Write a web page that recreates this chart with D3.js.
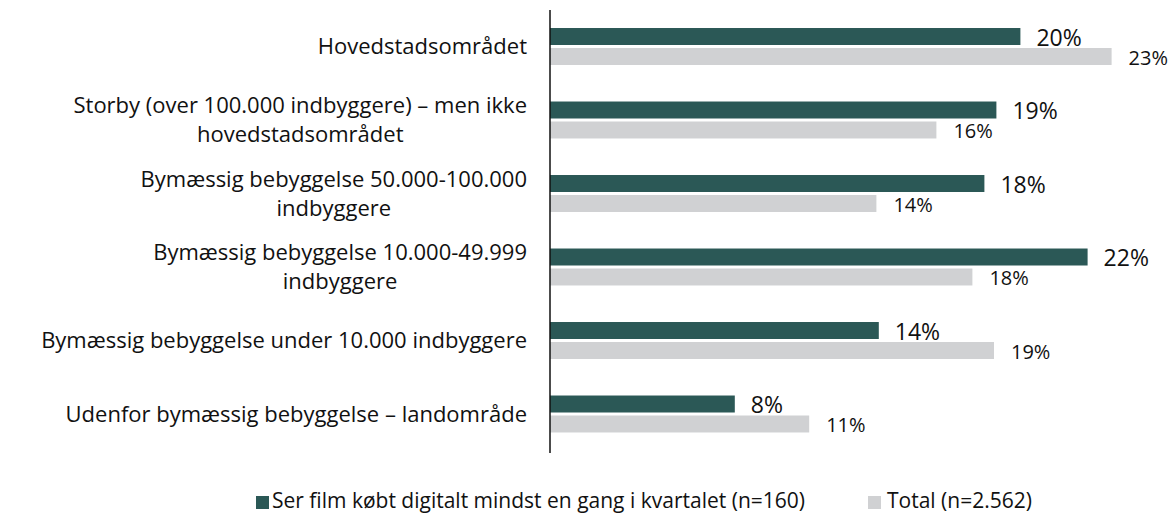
<!DOCTYPE html>
<html>
<head>
<meta charset="utf-8">
<script src="https://cdn.jsdelivr.net/npm/d3@7"></script>
<style>
  body { margin: 0; background: #fff; }
  svg { font-family: "Open Sans", sans-serif; }
</style>
</head>
<body>
<svg id="svg1" width="1174" height="513"></svg>
<script>
"use strict"

// ======================================================================
// data
const categories = [
  "Hovedstadsområdet",
  "Storby (over 100.000 indbyggere) – men ikke hovedstadsområdet",
  "Bymæssig bebyggelse 50.000-100.000 indbyggere",
  "Bymæssig bebyggelse 10.000-49.999 indbyggere",
  "Bymæssig bebyggelse under 10.000 indbyggere",
  "Udenfor bymæssig bebyggelse – landområde"
];
// how the category labels are broken over lines
const categoryLines = [
  ["Hovedstadsområdet"],
  ["Storby (over 100.000 indbyggere) – men ikke", "hovedstadsområdet"],
  ["Bymæssig bebyggelse 50.000-100.000", "indbyggere"],
  ["Bymæssig bebyggelse 10.000-49.999", "indbyggere"],
  ["Bymæssig bebyggelse under 10.000 indbyggere"],
  ["Udenfor bymæssig bebyggelse – landområde"]
];
const seriesNames = [
  "Ser film købt digitalt mindst en gang i kvartalet (n=160)",
  "Total (n=2.562)"
];
const digitalValues = [19.6, 18.6, 18.1, 22.4, 13.7, 7.7];
const totalValues   = [23.4, 16.1, 13.6, 17.6, 18.5, 10.8];

const colors = ["#2b5856", "#d0d1d3"];

// =======================================
// set up the chart
const svg = d3.select("#svg1");
const axisX = 550;

const x = d3.scaleLinear().domain([0, 25]).range([axisX, axisX + 600]);
const y = d3.scaleBand().domain(categories).range([9.75, 450.75]).paddingInner(0.497).paddingOuter(0.2485);
const sub = d3.scaleBand().domain([0, 1]).range([0, y.bandwidth()]).paddingInner(0.15);

const rows = categories.map((c, i) => ({cat: c, lines: categoryLines[i], vals: [digitalValues[i], totalValues[i]]}));

// bars and value labels
const g = svg.append("g");
rows.forEach(r => {
  r.vals.forEach((v, s) => {
    g.append("rect")
      .attr("x", x(0))
      .attr("y", y(r.cat) + sub(s))
      .attr("width", x(v) - x(0))
      .attr("height", sub.bandwidth())
      .attr("fill", colors[s]);

    g.append("text")
      .attr("x", x(v) + (s === 0 ? 16 : 17))
      .attr("y", y(r.cat) + sub(s) + sub.bandwidth() / 2 + (s === 0 ? 1 : 1.5))
      .attr("dy", "0.35em")
      .style("font-size", s === 0 ? "23px" : "20px")
      .attr("fill", "#111")
      .text(Math.round(v) + "%");
  });
});

// category labels (second line centred under the first)
rows.forEach(r => {
  const cy = y(r.cat) + y.bandwidth() / 2;
  const lh = 29;
  const t = svg.append("text")
    .style("font-size", "22px")
    .attr("fill", "#111");
  const spans = r.lines.map((ln, k) =>
    t.append("tspan")
      .attr("x", axisX - 23)
      .attr("y", cy + (k - (r.lines.length - 1) / 2) * lh)
      .attr("dy", "0.35em")
      .attr("text-anchor", "end")
      .text(ln));
  if (spans.length > 1) {
    const w0 = spans[0].node().getComputedTextLength();
    spans[1].attr("x", axisX - 23 - w0 / 2).attr("text-anchor", "middle");
  }
});

// vertical axis line
svg.append("line")
  .attr("x1", axisX).attr("x2", axisX)
  .attr("y1", 10).attr("y2", 453)
  .attr("stroke", "#111")
  .attr("stroke-width", 1.5);

// legend
const legendX = [256, 868];
seriesNames.forEach((name, s) => {
  svg.append("rect")
    .attr("x", legendX[s]).attr("y", 496)
    .attr("width", 13).attr("height", 13)
    .attr("fill", colors[s]);
  svg.append("text")
    .attr("x", legendX[s] + (s === 0 ? 16 : 19)).attr("y", 501)
    .attr("dy", "0.35em")
    .style("font-size", "21px")
    .attr("fill", "#111")
    .text(name);
});
</script>
</body>
</html>
